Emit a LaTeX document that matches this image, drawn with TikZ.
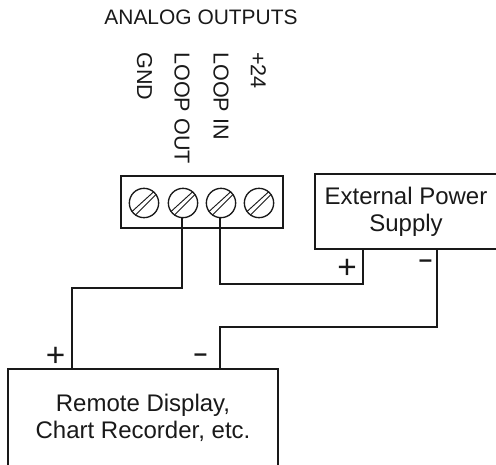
\documentclass[tikz,border=0pt]{standalone}
\usepackage{fontspec}
\setmainfont{Liberation Sans}
\usetikzlibrary{positioning}
\begin{document}
\begin{tikzpicture}[
    x=0.75pt,
    y=-0.75pt,
    font=\fontsize{18}{20}\selectfont,
    text=black!90,
    unit/.style={
		rectangle,
		draw=black!90,
		line width=1.5pt,
		inner sep=0pt,
		align=center
	},
	pin/.style={
		font=\fontsize{16.2}{18}\selectfont,
		rotate=-90,
		anchor=west,
		inner sep=0pt
	},
	screw/.style={
		circle,
		draw=black!90,
		line width=1pt,
		minimum size=22pt,
		inner sep=0pt
	},
	wire/.style={
		draw=black!90,
		line width=1.6pt
	},
	plussign/.style={
		font=\fontsize{25}{25}\selectfont,
		inner sep=0pt
	},
	minussign/.style={
		font=\fontsize{18}{18}\bfseries\selectfont,
		inner sep=0pt
	}
  ]
  \useasboundingbox (0,0) rectangle (496,464);

  % the blocks
  \node [unit, minimum width=121.5pt, minimum height=39pt] (block) at (201.5,201.5) {};
  \node [unit, minimum width=136.5pt, minimum height=56pt] (supply) at (406,211.5) {External Power\\Supply};
  \node [unit, minimum width=202.5pt, minimum height=73pt] (display) at (143,417.7) {Remote Display,\\Chart Recorder, etc.};

  % screws
  \foreach \name/\xpos in {gnd/144,out/183,in/221,plus/259} {
    \node [screw] (\name) at (\xpos,203) {};
    \draw [line width=0.7pt, draw=black!90] (\name.center) ++(-12,8.5) -- ++(22,-20);
    \draw [line width=0.7pt, draw=black!90] (\name.center) ++(-8.5,12) -- ++(20.5,-20.5);
  }

  % labels
  \node [font=\fontsize{15.7}{18}\selectfont] (title) at (201,17) {ANALOG OUTPUTS};
  \node [pin] (lgnd) at (144.5,52) {GND};
  \node [pin] (lout) at (182,52) {LOOP OUT};
  \node [pin] (lin) at (221,52) {LOOP IN};
  \node [pin] (lplus) at (258.5,52) {+24};

  \coordinate (outdown) at (182,288);
  \coordinate (indown) at (220,284);
  \coordinate (plusin) at (363,284);
  \coordinate (minusin) at (437,327);
  \coordinate (minusout) at (220,327);

  \draw [wire] (out.south -| outdown) -- (outdown) -- (72,288) -- (72,369);
  \draw [wire] (in.south -| indown) -- (indown) -- (plusin) -- (363,249);
  \draw [wire] (437,249) -- (minusin) -- (minusout) -- (220,369);

  \node [plussign] (p1) at (347,269) {+};
  \node [minussign] (m1) at (425.5,264) {–};
  \node [plussign] (p2) at (55.5,357) {+};
  \node [minussign] (m2) at (200.5,358) {–};
\end{tikzpicture}
\end{document}
